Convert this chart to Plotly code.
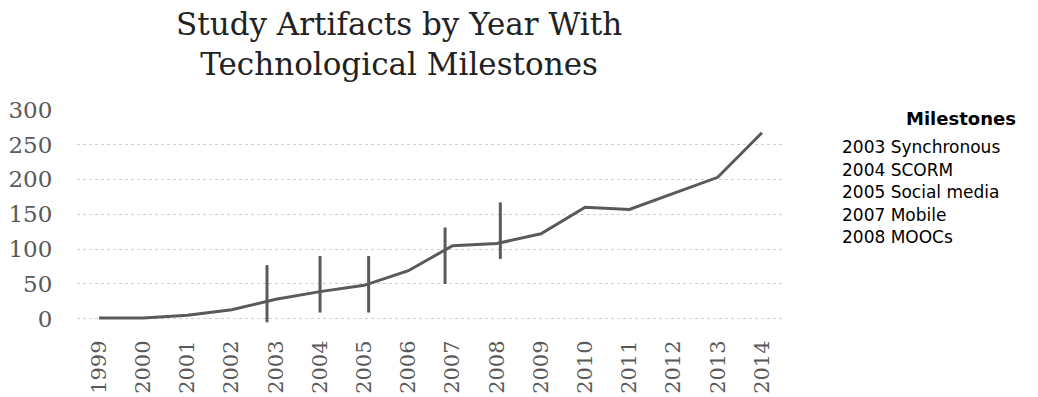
import plotly.graph_objects as go

# Study artifacts per year
years = list(range(1999, 2015))
artifacts = [1, 1, 5, 13, 28, 39, 48, 69, 105, 108, 122, 160, 157, 180, 203, 267]

# Technological milestones: vertical tick marks on the curve
milestone_years = [2003, 2004, 2005, 2007, 2008]
milestone_names = ["Synchronous", "SCORM", "Social media", "Mobile", "MOOCs"]
milestone_pos = [2002.8, 2004.0, 2005.1, 2006.83, 2008.08]
milestone_low = [-5, 9, 9, 50, 86]
milestone_high = [77, 90, 90, 131, 167]

y_ticks = [0, 50, 100, 150, 200, 250, 300]

LINE = "#5a5a5a"
SERIF = "DejaVu Serif"
SANS = "DejaVu Sans"

fig = go.Figure()
fig.add_trace(go.Scatter(
    x=years, y=artifacts, mode="lines",
    line=dict(color=LINE, width=3), showlegend=False, hoverinfo="skip",
))
for xp, lo, hi in zip(milestone_pos, milestone_low, milestone_high):
    fig.add_trace(go.Scatter(
        x=[xp, xp], y=[lo, hi], mode="lines",
        line=dict(color=LINE, width=3), showlegend=False, hoverinfo="skip",
    ))

annotations = [
    dict(text="Study Artifacts by Year With<br>Technological Milestones",
         xref="paper", yref="paper", x=0.456, y=1.0, yshift=105,
         xanchor="center", yanchor="top", showarrow=False, align="center",
         font=dict(family=SERIF, size=31, color="#222222")),
    dict(text="<b>Milestones</b>", xref="paper", yref="paper",
         x=1.0, xshift=234, y=1.0, yshift=-9, xanchor="right", yanchor="middle",
         showarrow=False, font=dict(family=SANS, size=18, color="#000000")),
]
for i, (yr, name) in enumerate(zip(milestone_years, milestone_names)):
    annotations.append(dict(
        text=f"{yr} {name}", xref="paper", yref="paper",
        x=1.0, xshift=56, y=1.0, yshift=-38 - 22.5 * i,
        xanchor="left", yanchor="middle", showarrow=False,
        font=dict(family=SANS, size=17, color="#000000"),
    ))

fig.update_layout(
    width=1038, height=397,
    margin=dict(l=77, r=254, t=109, b=74, pad=0),
    paper_bgcolor="white", plot_bgcolor="white",
    annotations=annotations,
    xaxis=dict(
        range=[1998.5, 2014.5], tickmode="array", tickvals=years,
        ticktext=[str(y) for y in years], tickangle=-90, automargin=False,
        showgrid=False, zeroline=False, showline=False,
        ticks="outside", ticklen=8, tickcolor="rgba(0,0,0,0)",
        tickfont=dict(family=SERIF, size=21, color="#595959"),
    ),
    yaxis=dict(
        range=[-6, 301], tickmode="array", tickvals=y_ticks, automargin=False,
        showgrid=True, gridcolor="#d0d0d0", griddash="dot", gridwidth=1,
        zeroline=False, showline=False,
        ticks="outside", ticklen=19, tickcolor="rgba(0,0,0,0)",
        tickfont=dict(family=SERIF, size=23, color="#595959"),
    ),
)

fig.write_html("out.html")
